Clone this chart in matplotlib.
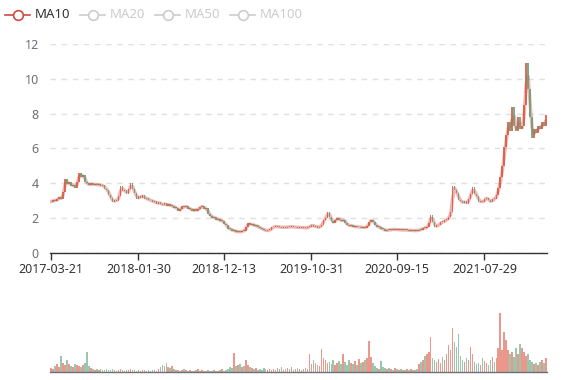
import numpy as np
import pandas as pd
import matplotlib
matplotlib.use("Agg")
import matplotlib.pyplot as plt
from matplotlib.lines import Line2D

plt.rcParams['font.family'] = ['Noto Sans', 'DejaVu Sans']

# ==================== data (weekly samples) ====================
closes = [
    2.95, 3.05, 2.98, 3.1, 3.2, 3.08, 3.5, 4.25, 3.95, 4.05,
    3.85, 3.92, 3.75, 4.05, 4.6, 4.35, 4.5, 4.1, 4.0, 3.88,
    4.02, 3.9, 3.98, 3.88, 3.95, 3.85, 3.9, 3.7, 3.62, 3.35,
    3.15, 2.92, 3.05, 2.98, 3.3, 3.85, 3.55, 3.6, 3.4, 3.65,
    4.0, 3.65, 3.45, 3.1, 3.25, 3.18, 3.32, 3.12, 3.15, 3.02,
    3.05, 2.92, 2.97, 2.82, 2.92, 2.8, 2.78, 2.85, 2.72, 2.82,
    2.68, 2.72, 2.58, 2.6, 2.42, 2.52, 2.68, 2.62, 2.7, 2.52,
    2.55, 2.42, 2.5, 2.44, 2.55, 2.62, 2.72, 2.52, 2.56, 2.25,
    2.15, 2.02, 2.06, 1.92, 1.95, 1.82, 1.86, 1.68, 1.58, 1.4,
    1.38, 1.28, 1.3, 1.2, 1.24, 1.2, 1.28, 1.26, 1.48, 1.72,
    1.62, 1.66, 1.56, 1.58, 1.47, 1.45, 1.36, 1.34, 1.27, 1.3,
    1.33, 1.47, 1.5, 1.54, 1.48, 1.5, 1.46, 1.5, 1.46, 1.52,
    1.48, 1.53, 1.47, 1.5, 1.46, 1.49, 1.44, 1.47, 1.42, 1.48,
    1.52, 1.62, 1.52, 1.54, 1.46, 1.52, 1.62, 1.9, 2.02, 2.38,
    2.08, 1.82, 1.74, 1.9, 2.02, 1.9, 1.84, 1.92, 1.72, 1.62,
    1.56, 1.58, 1.5, 1.53, 1.47, 1.52, 1.46, 1.49, 1.46, 1.56,
    1.78, 1.92, 1.76, 1.62, 1.48, 1.5, 1.38, 1.36, 1.28, 1.33,
    1.31, 1.36, 1.34, 1.37, 1.32, 1.35, 1.3, 1.34, 1.3, 1.33,
    1.28, 1.31, 1.26, 1.3, 1.28, 1.34, 1.33, 1.44, 1.42, 1.52,
    1.72, 2.18, 1.78, 1.5, 1.58, 1.62, 1.78, 1.76, 1.88, 1.92,
    2.08, 2.38, 3.85, 3.6, 3.45, 3.05, 3.0, 2.85, 2.98, 2.82,
    3.12, 3.38, 3.78, 3.4, 3.3, 2.95, 2.98, 2.9, 3.1, 3.18,
    3.02, 2.92, 3.1, 3.08, 3.35, 3.75, 4.35, 5.0, 6.1, 6.8,
    7.5, 7.0, 8.4, 7.3, 7.0, 7.8, 7.1, 7.3, 8.5, 10.9,
    9.4, 7.8, 6.6, 7.1, 6.9, 7.3, 7.1, 7.5, 7.3, 7.9,
]

volumes = [
    4, 3, 6, 8, 5, 16, 9, 7, 12, 8,
    6, 5, 8, 7, 6, 5, 7, 9, 20, 6,
    4, 3, 2, 3, 2, 3, 2, 2, 3, 2,
    2, 3, 2, 1, 2, 3, 2, 1, 2, 2,
    3, 2, 2, 1, 2, 1, 2, 2, 1, 2,
    1, 2, 2, 1, 3, 5, 7, 6, 9, 5,
    4, 6, 3, 2, 2, 1, 2, 3, 2, 1,
    2, 1, 1, 2, 3, 1, 2, 1, 1, 2,
    1, 1, 2, 1, 1, 2, 3, 1, 2, 3,
    5, 4, 19, 6, 7, 8, 5, 6, 12, 7,
    5, 4, 3, 4, 2, 3, 2, 4, 3, 2,
    3, 2, 3, 2, 4, 3, 5, 2, 3, 4,
    3, 5, 2, 3, 4, 3, 2, 3, 4, 3,
    18, 8, 12, 9, 7, 6, 23, 14, 12, 9,
    10, 8, 12, 7, 9, 11, 8, 18, 10, 7,
    12, 9, 8, 11, 7, 13, 9, 10, 12, 14,
    31, 15, 9, 6, 4, 3, 11, 5, 4, 3,
    4, 3, 2, 4, 3, 2, 3, 2, 2, 3,
    2, 3, 2, 2, 3, 8, 10, 12, 16, 18,
    20, 35, 14, 12, 10, 13, 9, 15, 12, 18,
    27, 22, 44, 30, 25, 38, 16, 12, 10, 14,
    12, 25, 18, 10, 8, 9, 7, 14, 11, 9,
    7, 12, 15, 10, 14, 24, 59, 22, 40, 32,
    22, 18, 20, 15, 24, 18, 28, 24, 20, 16,
    18, 12, 10, 8, 9, 7, 10, 12, 9, 14,
]

tick_idx = [0, 44, 87, 131, 174, 218]
tick_labels = ['2017-03-21', '2018-01-30', '2018-12-13', '2019-10-31', '2020-09-15', '2021-07-29']

legend_names = ['MA10', 'MA20', 'MA50', 'MA100']

# ==================== prepare ====================
df = pd.DataFrame({'close': closes, 'vol': volumes})
df['open'] = df['close'].shift(1).fillna(df['close'].iloc[0] - 0.05)
df['ma'] = df['close'].rolling(2, min_periods=1).mean()   # ~10 trading days
x = np.arange(len(df))
up = (df['close'] >= df['open']).values

RED = '#dc5440'
GREEN = '#5c9f78'
col = np.where(up, RED, GREEN)

body_bottom = np.minimum(df['open'], df['close'])
body_h = np.maximum(np.abs(df['close'] - df['open']), 0.05)

# ==================== figure ====================
W, H = 577, 380
fig = plt.figure(figsize=(W / 100, H / 100), dpi=100)

ax = fig.add_axes([50 / W, 1 - 253 / H, 497 / W, 209 / H])
ax.plot(x, df['ma'], color='#e06a60', alpha=0.5, linewidth=2.4, zorder=2, solid_capstyle='round')
ax.bar(x, body_h, bottom=body_bottom, width=0.8, color=col, alpha=0.85, linewidth=0, zorder=3)

ax.set_xlim(-0.5, len(df) - 0.5)
ax.set_ylim(0, 12)
ax.set_yticks(range(0, 13, 2))
ax.set_xticks(tick_idx)
ax.set_xticklabels(tick_labels)
ax.yaxis.grid(True, color='#e0e0e0', linestyle=(0, (4, 4)), linewidth=1)
ax.set_axisbelow(True)
for s in ['top', 'right', 'left']:
    ax.spines[s].set_visible(False)
ax.spines['bottom'].set_color('#333333')
ax.spines['bottom'].set_linewidth(1)
ax.tick_params(axis='y', length=0, labelsize=9, labelcolor='#6e7079', pad=8)
ax.tick_params(axis='x', length=5, width=1, color='#333333', labelsize=9, labelcolor='#333333', pad=2)

# volume panel
axv = fig.add_axes([50 / W, 1 - 372 / H, 497 / W, 82 / H])
axv.bar(x, df['vol'], width=0.8, color=col, alpha=0.6, linewidth=0)
axv.set_xlim(-0.5, len(df) - 0.5)
axv.set_ylim(0, 82)
axv.set_xticks([])
axv.set_yticks([])
for s in ['top', 'right', 'left']:
    axv.spines[s].set_visible(False)
axv.spines['bottom'].set_color('#6e7079')
axv.spines['bottom'].set_linewidth(1)

# legend (hand placed like echarts)
leg_x = [5, 80, 155, 230]
for i, name in enumerate(legend_names):
    c = '#d04a42' if i == 0 else '#cccccc'
    tc = '#333333' if i == 0 else '#cccccc'
    x0 = leg_x[i]
    yy = 1 - 15 / H
    fig.add_artist(Line2D([x0 / W, (x0 + 25) / W], [yy, yy], color=c, linewidth=1.2))
    fig.add_artist(Line2D([(x0 + 12.5) / W], [yy], marker='o', markersize=7,
                          markerfacecolor='white', markeredgecolor=c, markeredgewidth=1.2))
    fig.text((x0 + 30) / W, yy, name, color=tc, fontsize=9.5, va='center', ha='left')

fig.savefig('out.png', dpi=100)
